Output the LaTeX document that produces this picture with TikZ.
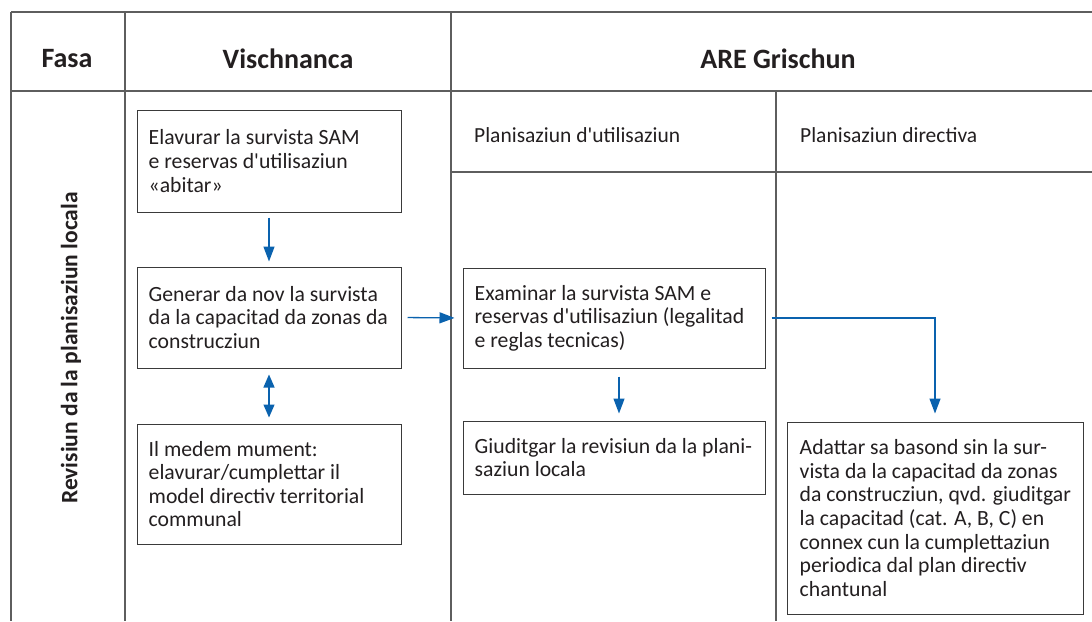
\documentclass[tikz,border=0pt]{standalone}
\usepackage{fontspec}
\setmainfont{Carlito}[Ligatures=TeXOff]
\usetikzlibrary{arrows.meta}
\definecolor{arrowblue}{HTML}{0A62AE}
\definecolor{gridgray}{HTML}{5E5E5E}
\definecolor{boxgray}{HTML}{3A3A3A}
\definecolor{txtcol}{HTML}{231F20}
\begin{document}
\begin{tikzpicture}[x=1pt,y=-1pt,
  grid/.style={draw=gridgray, line width=1.1pt},
  box/.style={draw=boxgray, line width=1pt, inner sep=0pt},
  txt/.style={anchor=west, align=left, inner sep=0pt, font=\fontsize{21.7}{23.6}\selectfont, text=txtcol},
  hdr/.style={font=\bfseries\fontsize{28}{32}\selectfont, text=txtcol},
  sub/.style={anchor=west, inner sep=0pt, font=\fontsize{21.5}{24}\selectfont, text=txtcol},
  flow/.style={draw=arrowblue, line width=1.3pt, -{Triangle[length=15pt,width=11pt]}},
  bothflow/.style={draw=arrowblue, line width=1.3pt, {Triangle[length=13pt,width=11pt]}-{Triangle[length=13pt,width=11pt]}}
]
\useasboundingbox (0,0) rectangle (1092,621);
\fill[white] (0,0) rectangle (1092,621);

% table grid
\draw[grid] (11,12) -- (1092,12);
\draw[grid] (11,91) -- (1092,91);
\draw[grid] (451,172) -- (1092,172);
\draw[grid] (11,12) -- (11,621);
\draw[grid] (125,12) -- (125,621);
\draw[grid] (451,12) -- (451,621);
\draw[grid] (776,91) -- (776,621);

% headers
\node[hdr] (h1) at (67,59) {Fasa};
\node[hdr] (h2) at (288,59) {Vischnanca};
\node[hdr] (h3) at (778,59) {ARE Grischun};
\node[sub] (sh1) at (474,135) {Planisaziun d'utilisaziun};
\node[sub] (sh2) at (800,135) {Planisaziun directiva};
\node[rotate=90, font=\bfseries\fontsize{23.5}{28}\selectfont, text=txtcol] (phase) at (71,348) {Revisiun da la planisaziun locala};

% boxes
\node[box, minimum width=264pt, minimum height=102pt] (b1) at (269,161) {};
\node[txt] (t1) at ([xshift=12pt]b1.west) {Elavurar la survista SAM\\e reservas d'utilisaziun\\«abitar»};

\node[box, minimum width=264pt, minimum height=101pt] (b2) at (269,317.5) {};
\node[txt] (t2) at ([xshift=12pt]b2.west) {Generar da nov la survista\\da la capacitad da zonas da\\construcziun};

\node[box, minimum width=264pt, minimum height=120pt] (b3) at (269,484) {};
\node[txt] (t3) at ([xshift=12pt]b3.west) {Il medem mument:\\elavurar/cumplettar il\\model directiv territorial\\communal};

\node[box, minimum width=302pt, minimum height=100pt] (ex) at (614,318) {};
\node[txt] (t4) at ([xshift=12pt]ex.west) {Examinar la survista SAM e\\reservas d'utilisaziun (legalitad\\e reglas tecnicas)};

\node[box, minimum width=302pt, minimum height=73pt] (gi) at (614,457.5) {};
\node[txt] (t5) at ([xshift=12pt]gi.west) {Giuditgar la revisiun da la plani-\\saziun locala};

\node[box, minimum width=296pt, minimum height=192pt] (ad) at (935,518) {};
\node[txt] (t6) at ([xshift=13pt]ad.west) {Adattar sa basond sin la sur-\\vista da la capacitad da zonas\\da construcziun, qvd. giuditgar\\la capacitad (cat. A, B, C) en\\connex cun la cumplettaziun\\periodica dal plan directiv\\chantunal};

% connectors
\draw[flow, shorten <=5pt, shorten >=5pt] (b1.south) -- (b2.north);
\draw[bothflow, shorten <=6pt, shorten >=6pt] (b2.south) -- (b3.north);
\draw[flow, shorten <=6pt, shorten >=8pt] (b2.east) -- (ex.west);
\draw[flow, shorten <=6pt, shorten >=8pt] (ex.east) -| (ad.north);
\draw[flow, shorten <=8pt, shorten >=7pt] ([xshift=5pt]ex.south) -- ([xshift=5pt]gi.north);
\end{tikzpicture}
\end{document}
